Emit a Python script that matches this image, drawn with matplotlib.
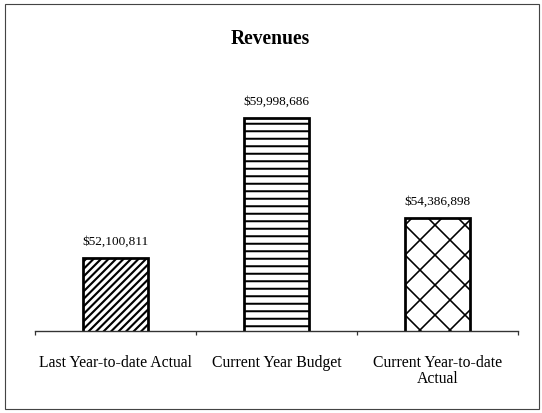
import matplotlib
matplotlib.use("Agg")
import matplotlib.pyplot as plt
from matplotlib.patches import Rectangle

# chart data
categories = ["Last Year-to-date Actual", "Current Year Budget", "Current Year-to-date\nActual"]
revenues = [52100811, 59998686, 54386898]
hatches = ["////", "--", "x"]
hatch_widths = [1.7, 1.6, 1.3]

plt.rcParams["font.family"] = ["Liberation Serif", "DejaVu Serif"]

DPI = 90
W, H = 542, 413
fig = plt.figure(figsize=(W / DPI, H / DPI), dpi=DPI)
ax = fig.add_axes([35 / W, 1 - 331 / H, 483 / W, 248.5 / H])

x = list(range(len(categories)))
bars = ax.bar(x, revenues, width=0.40, color="white", edgecolor="black", linewidth=2.2)
for bar, h, hw in zip(bars, hatches, hatch_widths):
    bar.set_hatch(h)
    if hasattr(bar, "set_hatch_linewidth"):
        bar.set_hatch_linewidth(hw)

# value labels above bars
for i, v in enumerate(revenues):
    ax.annotate(f"${v:,}", (i, v), xytext=(0, 13), textcoords="offset points",
                ha="center", va="center", fontsize=10.6)

ax.set_xlim(-0.5, len(categories) - 0.5)
ax.set_ylim(48e6, 62e6)
ax.set_yticks([])
for s in ["top", "left", "right"]:
    ax.spines[s].set_visible(False)
ax.spines["bottom"].set_color("#333333")
ax.spines["bottom"].set_linewidth(1.1)

ax.set_xticks(x)
ax.set_xticklabels(categories, fontsize=12.6, linespacing=1.0)
ax.tick_params(axis="x", which="major", length=0, pad=19)
ax.set_xticks([-0.5, 0.5, 1.5, 2.5], minor=True)
ax.tick_params(axis="x", which="minor", length=3, width=1, color="#333333", direction="out")

fig.text(270 / W, 1 - 39 / H, "Revenues", fontsize=15.6, fontweight="bold",
         ha="center", va="center")

# outer frame
fig.add_artist(Rectangle((5 / W, 1 - 409 / H), 534 / W, 405 / H, transform=fig.transFigure,
                         fill=False, edgecolor="#444444", linewidth=0.9))

fig.savefig("out.png", dpi=DPI)
